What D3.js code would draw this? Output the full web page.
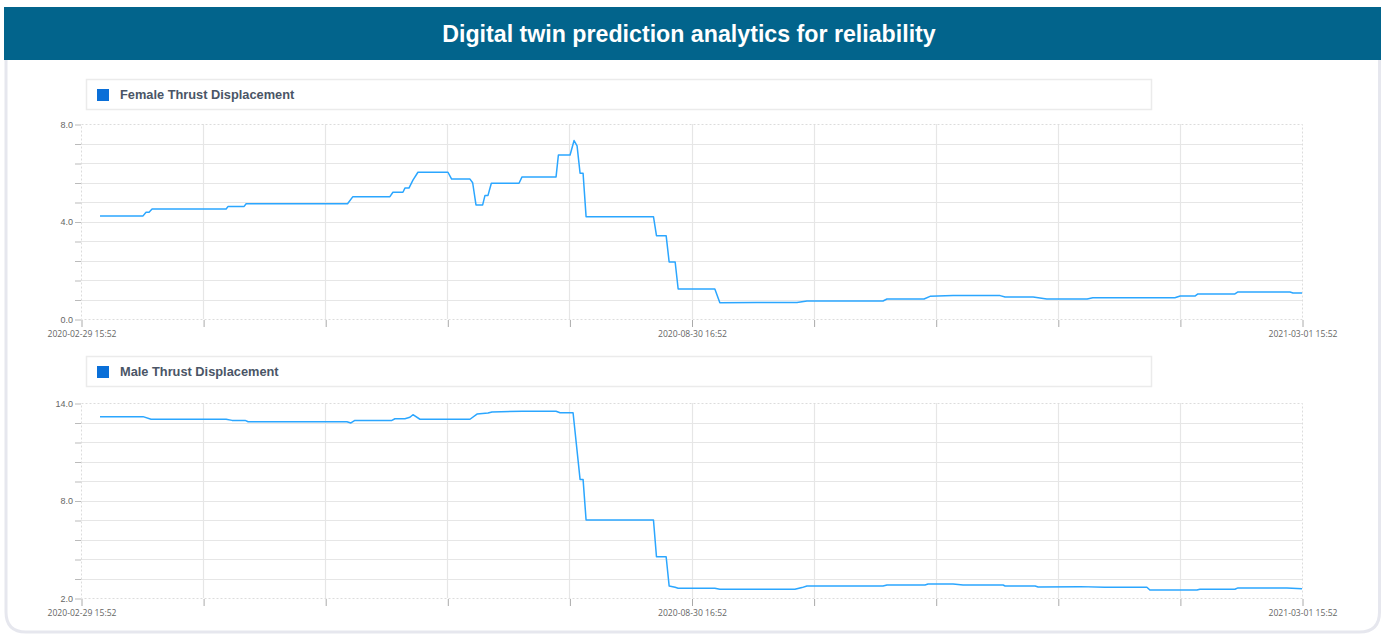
<!DOCTYPE html>
<html><head><meta charset="utf-8">
<script src="https://cdn.jsdelivr.net/npm/d3@7/dist/d3.min.js"></script>
<style>
html,body{margin:0;padding:0;background:#fff;}
svg{display:block;}
</style></head>
<body>
<svg id="chart" width="1386" height="635"></svg>
<script>
// ---- data ----
const titleText = "Digital twin prediction analytics for reliability";
const seriesNames = ["Female Thrust Displacement", "Male Thrust Displacement"];
const xTickLabels = ["2020-02-29 15:52", "2020-08-30 16:52", "2021-03-01 15:52"];
const xDomainDays = [0, 366];
// days since 2020-02-29 15:52
const femaleDays = [5.7,18.6,19.5,20.4,21.3,43.5,44.1,48.9,49.5,79.9,81.5,92.6,93.5,96.5,97.1,98.3,99.5,101.0,110.0,111.1,116.6,117.4,118.4,120.4,121.1,122.0,123.0,131.3,132.2,142.4,143.1,146.6,147.8,148.7,149.6,150.5,151.4,171.6,172.5,175.4,176.3,178.1,179.0,190.0,191.5,202.6,214.6,217.6,240.4,241.6,252.7,254.5,261.4,275.5,277.0,285.4,289.5,301.6,303.3,327.9,329.5,333.9,334.8,345.9,346.8,362.4,363.3,366];
const femaleValues = [4.23,4.23,4.38,4.38,4.51,4.51,4.62,4.62,4.73,4.73,5.02,5.02,5.2,5.2,5.37,5.37,5.7,6.02,6.02,5.74,5.74,5.59,4.68,4.68,5.07,5.07,5.57,5.57,5.83,5.83,6.73,6.73,7.32,7.1,5.98,5.98,4.2,4.2,3.42,3.42,2.34,2.34,1.23,1.23,0.67,0.68,0.68,0.74,0.74,0.82,0.82,0.93,0.96,0.96,0.9,0.9,0.82,0.82,0.87,0.87,0.94,0.94,1.03,1.03,1.11,1.11,1.07,1.07];
const maleDays = [5.7,18.6,21.0,43.5,45.3,49.2,50.1,79.7,80.9,82.1,93.2,94.1,97.1,98.6,99.5,101.6,116.6,118.7,122.0,123.2,132.2,142.4,143.6,147.5,149.6,150.5,151.4,171.6,172.5,175.4,176.3,178.1,179.0,190.0,191.5,214.0,216.1,217.6,240.4,241.6,253.0,253.9,261.4,264.4,276.4,277.0,286.0,286.9,299.4,306.9,319.5,320.4,334.5,335.4,345.9,346.8,361.5,366];
const maleValues = [13.16,13.16,13.0,13.0,12.93,12.93,12.85,12.85,12.77,12.93,12.93,13.03,13.03,13.12,13.28,13.0,13.0,13.32,13.38,13.45,13.49,13.49,13.4,13.4,9.3,9.3,6.8,6.8,4.54,4.54,2.74,2.66,2.6,2.6,2.54,2.54,2.64,2.74,2.74,2.8,2.8,2.86,2.86,2.8,2.8,2.74,2.74,2.68,2.7,2.66,2.66,2.49,2.49,2.54,2.54,2.62,2.62,2.57];
const femaleYDomain = [0, 8];
const maleYDomain = [2, 14];
const femaleYLabels = ["0.0", "4.0", "8.0"];
const maleYLabels = ["2.0", "8.0", "14.0"];

// ---- drawing ----
const svg = d3.select("#chart");

// card with border
svg.append("path")
  .attr("d", (() => {
    const x0 = 6, x1 = 1379.5, y0 = 60, y1 = 632, r = 20;
    return `M${x0},${y0} L${x0},${y1 - r} Q${x0},${y1} ${x0 + r},${y1} L${x1 - r},${y1} Q${x1},${y1} ${x1},${y1 - r} L${x1},${y0}`;
  })())
  .attr("fill", "#fff").attr("stroke", "#e6e7ee").attr("stroke-width", 3);

// title bar
svg.append("rect").attr("x", 4).attr("y", 7).attr("width", 1377).attr("height", 53).attr("fill", "#02648c");
svg.append("text").attr("x", 689).attr("y", 42).attr("text-anchor", "middle")
  .attr("fill", "#fff").attr("font-family", "Liberation Sans, Arial, sans-serif")
  .attr("font-weight", "bold").attr("font-size", 23.2).text(titleText);

const x = d3.scaleLinear().domain(xDomainDays).range([81, 1302]);

function panel(cfg) {
  const g = svg.append("g");
  const y = d3.scaleLinear().domain(cfg.yDomain).range([cfg.yBottom, cfg.yTop]);

  // legend box
  g.append("rect").attr("x", 86.5).attr("y", cfg.legendY + 0.5).attr("width", 1065).attr("height", 30)
    .attr("fill", "#fff").attr("stroke", "#ebebeb").attr("stroke-width", 1.5);
  g.append("rect").attr("x", 97).attr("y", cfg.legendY + 10).attr("width", 12).attr("height", 12).attr("fill", "#0a6fd8");
  g.append("text").attr("x", 120).attr("y", cfg.legendY + 20).attr("fill", "#4a5566")
    .attr("font-family", "Liberation Sans, Arial, sans-serif").attr("font-weight", "bold")
    .attr("font-size", 12.8).text(cfg.name);

  const yTicks = d3.range(11).map(i => cfg.yDomain[0] + i * (cfg.yDomain[1] - cfg.yDomain[0]) / 10);
  const xTicks = d3.range(11).map(i => xDomainDays[0] + i * (xDomainDays[1] - xDomainDays[0]) / 10);

  // grid
  g.append("g").selectAll("line").data(yTicks.slice(1, 10)).join("line")
    .attr("x1", x.range()[0]).attr("x2", x.range()[1])
    .attr("y1", d => Math.round(y(d)) + 0.5).attr("y2", d => Math.round(y(d)) + 0.5)
    .attr("stroke", "#e6e6e6").attr("stroke-width", 1.2);
  g.append("g").selectAll("line").data(xTicks.slice(1, 10)).join("line")
    .attr("x1", d => Math.round(x(d)) + 0.5).attr("x2", d => Math.round(x(d)) + 0.5)
    .attr("y1", cfg.yTop).attr("y2", cfg.yBottom)
    .attr("stroke", "#e6e6e6").attr("stroke-width", 1.2);
  // dashed frame
  g.append("rect").attr("x", x.range()[0] + 0.5).attr("y", cfg.yTop + 0.5)
    .attr("width", x.range()[1] - x.range()[0]).attr("height", cfg.yBottom - cfg.yTop)
    .attr("fill", "none").attr("stroke", "#dcdcdc").attr("stroke-dasharray", "2,2");

  // y axis
  const yAxis = d3.axisLeft(y).tickValues(yTicks).tickSize(6).tickPadding(2)
    .tickFormat((d, i) => (i % 5 === 0 ? cfg.yLabels[i / 5] : ""));
  const ya = g.append("g").attr("transform", `translate(${x.range()[0]},0.5)`).call(yAxis);
  ya.select(".domain").remove();
  ya.selectAll(".tick line").attr("stroke", "#bbb");
  ya.selectAll(".tick text").attr("fill", "#666").attr("font-size", 9)
    .attr("font-family", "Liberation Sans, Arial, sans-serif");

  // x axis
  const xAxis = d3.axisBottom(x).tickValues(xTicks).tickSize(7).tickPadding(4)
    .tickFormat((d, i) => (i % 5 === 0 ? xTickLabels[i / 5] : ""));
  const xa = g.append("g").attr("transform", `translate(0.5,${cfg.yBottom + 1})`).call(xAxis);
  xa.select(".domain").remove();
  xa.selectAll(".tick line").attr("stroke", "#aaa");
  xa.selectAll(".tick text").attr("fill", "#666").attr("font-size", 8.6)
    .attr("font-family", "Open Sans, Liberation Sans, Arial, sans-serif");

  // line
  const pts = cfg.days.map((d, i) => [d, cfg.values[i]]);
  g.append("path").datum(pts)
    .attr("d", d3.line().x(d => x(d[0])).y(d => y(d[1])))
    .attr("fill", "none").attr("stroke", "#2ba6ff").attr("stroke-width", 1.5)
    .attr("stroke-linejoin", "round");
}

panel({ name: seriesNames[0], legendY: 79, yTop: 124, yBottom: 319, yDomain: femaleYDomain, yLabels: femaleYLabels, days: femaleDays, values: femaleValues });
panel({ name: seriesNames[1], legendY: 356, yTop: 403, yBottom: 598, yDomain: maleYDomain, yLabels: maleYLabels, days: maleDays, values: maleValues });
</script>
</body></html>
